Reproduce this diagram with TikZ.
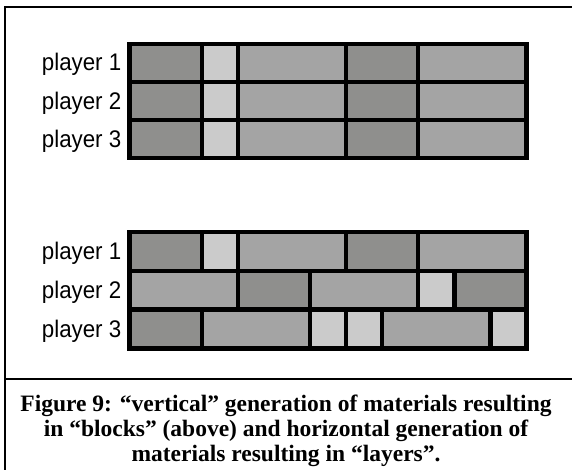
\documentclass[tikz,border=0pt]{standalone}
\usepackage{fontspec}
\setmainfont{Liberation Serif}
\newfontfamily\labelfont[FakeStretch=0.93]{Liberation Sans}
\usetikzlibrary{positioning}
\definecolor{darkcell}{RGB}{143,143,141}
\definecolor{midcell}{RGB}{164,164,164}
\definecolor{lightcell}{RGB}{203,203,203}
\tikzset{
  cell/.style={draw=black, line width=4.3pt},
  frameline/.style={line width=2pt},
  playerlabel/.style={anchor=base east, inner sep=0pt, font=\labelfont\fontsize{24}{24}\selectfont},
  captiontext/.style={anchor=base, inner sep=0pt, align=center, font=\bfseries\fontsize{23.5}{25}\selectfont},
}

\begin{document}
\begin{tikzpicture}[x=1pt,y=-1pt]
\useasboundingbox (0,0) rectangle (572,470);

% frame round the figure
\draw[frameline] (5,470) -- (5,7.3) -- (572,7.3);
\draw[frameline] (5,379) -- (572,379);

% "blocks": every player gets the same materials
\foreach \ytop in {44, 82.1, 120.2} {
  \foreach \s/\l/\c in {0/2/darkcell, 2/1/lightcell, 3/3/midcell, 6/2/darkcell, 8/3/midcell}
    \draw[cell, fill=\c] ({129.5+\s*36.1}, \ytop) rectangle +({\l*36.1}, 38.1);
}
\node[playerlabel] (blocks1) at (121.5,71) {player 1};
\node[playerlabel] (blocks2) at (121.5,109.1) {player 2};
\node[playerlabel] (blocks3) at (121.5,147.2) {player 3};

% "layers": each player gets his own sequence
\foreach \s/\l/\c in {0/2/darkcell, 2/1/lightcell, 3/3/midcell, 6/2/darkcell, 8/3/midcell}
  \draw[cell, fill=\c] ({129.5+\s*36.1}, 232) rectangle +({\l*36.1}, 38.8);
\foreach \s/\l/\c in {0/3/midcell, 3/2/darkcell, 5/3/midcell, 8/1/lightcell, 9/2/darkcell}
  \draw[cell, fill=\c] ({129.5+\s*36.1}, 270.8) rectangle +({\l*36.1}, 38.8);
\foreach \s/\l/\c in {0/2/darkcell, 2/3/midcell, 5/1/lightcell, 6/1/lightcell, 7/3/midcell, 10/1/lightcell}
  \draw[cell, fill=\c] ({129.5+\s*36.1}, 309.6) rectangle +({\l*36.1}, 38.8);
\node[playerlabel] (layers1) at (121.5,259.4) {player 1};
\node[playerlabel] (layers2) at (121.5,298.2) {player 2};
\node[playerlabel] (layers3) at (121.5,337) {player 3};

% caption
\node[captiontext] (caption) at (286,461) {Figure 9: “vertical” generation of materials resulting\\
  in “blocks” (above) and horizontal generation of\\
  materials resulting in “layers”.};
\end{tikzpicture}
\end{document}
